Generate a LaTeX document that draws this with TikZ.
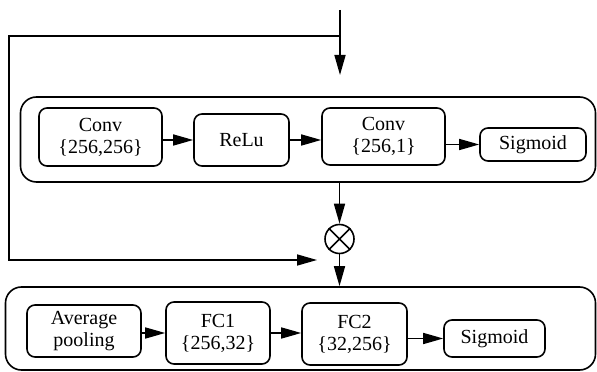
\documentclass[tikz,border=0pt]{standalone}
\usepackage{fontspec}
\setmainfont{Liberation Serif}
\usetikzlibrary{arrows.meta}

\begin{document}
\begin{tikzpicture}[x=1pt,y=1pt]
\tikzstyle{every node} = [font=\fontsize{20}{22}\selectfont]
\tikzstyle{block} = [draw, rounded corners=8pt, line width=1.6pt, align=center, inner sep=0pt]
\tikzstyle{frame} = [draw, rounded corners=16pt, line width=1.6pt, inner sep=0pt]
\tikzstyle{arr} = [-{Triangle[length=20pt,width=11pt]}, line width=1.6pt]
\useasboundingbox (0,0) rectangle (597,372);

% spatial attention branch
\node [frame, minimum width=575pt, minimum height=85pt] (stageA) at (308, 232.5) {};
\node [block, minimum width=123pt, minimum height=58pt] (conva) at (100.5, 235) {Conv\\\{256,256\}};
\node [block, minimum width=95pt, minimum height=52pt] (relu) at (241.5, 232) {ReLu};
\node [block, minimum width=123pt, minimum height=57pt] (convb) at (383.5, 235.5) {Conv\\\{256,1\}};
\node [block, minimum width=106pt, minimum height=33pt] (siga) at (533, 227.5) {Sigmoid};

% channel attention branch
\node [frame, minimum width=590pt, minimum height=83pt] (stageB) at (300.5, 43.5) {};
\node [block, minimum width=114pt, minimum height=52pt] (avg) at (84, 41) {Average\\pooling};
\node [block, minimum width=104pt, minimum height=62pt] (fca) at (218, 39) {FC1\\\{256,32\}};
\node [block, minimum width=105pt, minimum height=62pt] (fcb) at (354.5, 38) {FC2\\\{32,256\}};
\node [block, minimum width=101pt, minimum height=37pt] (sigb) at (494.5, 33.5) {Sigmoid};

\node [draw, circle, line width=1.6pt, minimum size=29pt, inner sep=0pt] (prod) at (339.5, 133) {};
\draw [line width=1.6pt] (prod.north west) -- (prod.south east) (prod.north east) -- (prod.south west);

\coordinate (in) at (340, 362);
\coordinate (branch) at (340, 336);
\coordinate (tipa) at (340, 297);
\coordinate (skipa) at (9, 336);
\coordinate (skipb) at (9, 112);
\coordinate (skipc) at (317, 112);

\draw [arr] (in) -- (tipa);
\draw [arr] (branch) -- (skipa) -- (skipb) -- (skipc);

\draw [arr] (conva.east |- relu) -- (relu);
\draw [arr] (relu) -- (convb.west |- relu);
\draw [arr] (convb.east |- siga) -- (siga);

\draw [arr] (prod |- stageA.south) -- (prod);
\draw [arr] (prod) -- (prod |- stageB.north);

\draw [arr] (avg.east |- fca) -- (fca);
\draw [arr] (fca) -- (fcb.west |- fca);
\draw [arr] (fcb.east |- sigb) -- (sigb);

\end{tikzpicture}
\end{document}
